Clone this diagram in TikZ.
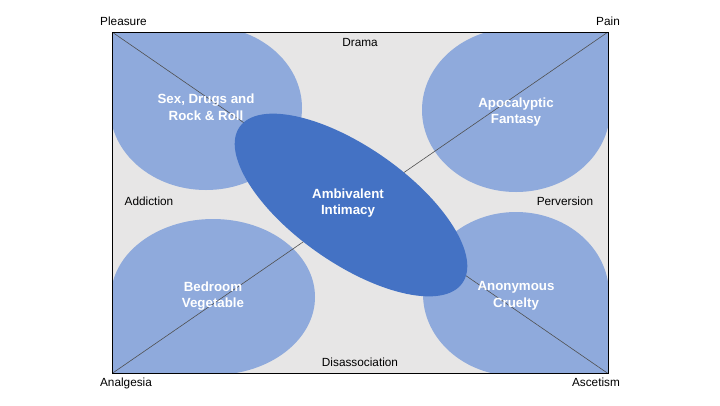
\documentclass[tikz,border=0pt]{standalone}
\usepackage{fontspec}
\setmainfont{Liberation Sans}
\usetikzlibrary{shapes.geometric}
\definecolor{bggray}{HTML}{E7E6E6}
\definecolor{lightblue}{HTML}{8FAADC}
\definecolor{midblue}{HTML}{4472C4}
\definecolor{diagcol}{HTML}{505050}
\begin{document}
\begin{tikzpicture}[x=1pt,y=-1pt,
  blob/.style={ellipse, fill=lightblue, inner sep=0pt},
  centerblob/.style={ellipse, fill=midblue, inner sep=0pt},
  lbl/.style={font=\fontsize{11.8}{14}\selectfont, text=black, inner sep=0pt, anchor=base},
  inlbl/.style={font=\fontsize{13.3}{16.5}\selectfont\bfseries, text=white, align=center, inner sep=0pt},
  diagline/.style={draw=diagcol, line width=0.6pt}]
\useasboundingbox (0,0) rectangle (720,405);
\fill[white] (0,0) rectangle (720,405);
\coordinate (tl) at (112,32);
\coordinate (tr) at (608,32);
\coordinate (bl) at (112,373.5);
\coordinate (br) at (608,373.5);
\fill[bggray] (tl) rectangle (br);
\begin{scope}
  \clip (tl) rectangle (br);
  % teardrops: ellipse plus a square corner quadrant towards the outer corner
  \node[blob, minimum width=192pt, minimum height=164pt] (e1) at (206,108) {};
  \fill[lightblue] (e1.west |- e1.north) rectangle (e1.center);
  \node[blob, minimum width=188pt, minimum height=164pt] (e2) at (516,110) {};
  \fill[lightblue] (e2.east |- e2.north) rectangle (e2.center);
  \node[blob, minimum width=204pt, minimum height=156pt] (e3) at (213,297) {};
  \fill[lightblue] (e3.west |- e3.south) rectangle (e3.center);
  \node[blob, minimum width=186pt, minimum height=164pt] (e4) at (516,294) {};
  \fill[lightblue] (e4.east |- e4.south) rectangle (e4.center);
  \draw[diagline] (tl) -- (br);
  \draw[diagline] (bl) -- (tr);
  \node[centerblob, minimum width=272pt, minimum height=116pt, rotate=-35] (e5) at (351,205) {};
\end{scope}
\draw[black, line width=1pt] (tl) rectangle (br);
\node[inlbl] (t1) at (206,107) {Sex, Drugs and\\Rock \& Roll};
\node[inlbl] (t2) at (516,112) {Apocalyptic\\Fantasy};
\node[inlbl] (t3) at (213,296) {Bedroom\\Vegetable};
\node[inlbl] (t4) at (516,296) {Anonymous\\Cruelty};
\node[inlbl] (t5) at (348,203) {Ambivalent\\Intimacy};
\node[lbl] (pleasure) at (123.5,25.3) {Pleasure};
\node[lbl] (pain) at (608,25.3) {Pain};
\node[lbl] (drama) at (360,46.7) {Drama};
\node[lbl] (addiction) at (149,205) {Addiction};
\node[lbl] (perversion) at (565,205) {Perversion};
\node[lbl] (disassociation) at (360,366.7) {Disassociation};
\node[lbl] (analgesia) at (126,386.7) {Analgesia};
\node[lbl] (ascetism) at (596,386.7) {Ascetism};
\end{tikzpicture}
\end{document}
